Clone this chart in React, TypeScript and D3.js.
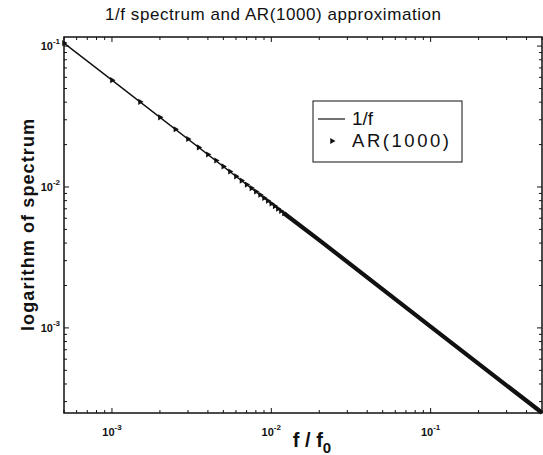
import { useMemo } from "react";
import { scaleLog, line, symbol, symbolTriangle } from "d3";

// 1/f reference line
const fLine = [0.0005, 0.001, 0.01, 0.1, 0.5];
const sLine = [0.105, 0.0573, 0.0076, 0.00102, 0.00025];

// AR(1000) markers, the sparse low-frequency part
const arFreq = [
  0.0005, 0.001, 0.0015, 0.002, 0.0025, 0.003, 0.0035, 0.004, 0.0045, 0.005,
  0.0055, 0.006, 0.0065, 0.007, 0.0075, 0.008, 0.0085, 0.009, 0.0095, 0.01,
  0.0105, 0.011, 0.0115, 0.012,
];
const arSpec = [
  0.105, 0.0573, 0.0402, 0.0312, 0.0257, 0.0219, 0.0191, 0.017, 0.0154, 0.014,
  0.0129, 0.0119, 0.0111, 0.0104, 0.00982, 0.00928, 0.0088, 0.00837, 0.00799,
  0.00763, 0.00732, 0.00702, 0.00675, 0.00651,
];
// dense part, where markers merge into a thick band
const arBandFreq = [0.012, 0.02, 0.1, 0.5];
const arBandSpec = [0.00651, 0.0042, 0.00102, 0.00025];

const xTickExp = [-3, -2, -1];
const yTickExp = [-1, -2, -3];

const W = 543;
const H = 455;
const left = 64;
const right = 542;
const top = 37;
const bottom = 413;
const font = "Liberation Sans, Arial, sans-serif";

export default function App() {
  const x = useMemo(() => scaleLog().domain([5e-4, 0.5]).range([left, right]), []);
  const y = useMemo(() => scaleLog().domain([2.49e-4, 0.116]).range([bottom, top]), []);

  const lineGen = line<number>()
    .x((d, i) => x(fLine[i]))
    .y((d) => y(d));
  const bandGen = line<number>()
    .x((d, i) => x(arBandFreq[i]))
    .y((d) => y(d));
  const tri = symbol().type(symbolTriangle).size(16)();

  // minor + major ticks inside the domains
  const xTicks = x.ticks();
  const yTicks = y.ticks();
  const isMajor = (v: number) => Math.abs(Math.log10(v) - Math.round(Math.log10(v))) < 1e-6;

  return (
    <svg
      width={W}
      height={H}
      style={{ position: "absolute", left: 0, top: 0, background: "#fff" }}
      fontFamily={font}
    >
      <rect width={W} height={H} fill="#fff" />
      <text x={105} y={20} fontSize={17} fill="#111" textLength={336} lengthAdjust="spacing">
        1/f spectrum and AR(1000) approximation
      </text>

      {/* frame */}
      <rect
        x={left}
        y={top}
        width={right - left}
        height={bottom - top}
        fill="none"
        stroke="#111"
        strokeWidth={1.5}
      />

      {/* ticks */}
      {xTicks.map((t, i) => {
        const len = isMajor(t) ? 5 : 3;
        return (
          <g key={"xt" + i} stroke="#111" strokeWidth={1}>
            <line x1={x(t)} x2={x(t)} y1={bottom} y2={bottom - len} />
            <line x1={x(t)} x2={x(t)} y1={top} y2={top + len} />
          </g>
        );
      })}
      {yTicks.map((t, i) => {
        const len = isMajor(t) ? 5 : 3;
        return (
          <g key={"yt" + i} stroke="#111" strokeWidth={1}>
            <line x1={left} x2={left + len} y1={y(t)} y2={y(t)} />
            <line x1={right} x2={right - len} y1={y(t)} y2={y(t)} />
          </g>
        );
      })}

      {/* tick labels */}
      {xTickExp.map((e) => (
        <text key={"xl" + e} x={x(Math.pow(10, e))} y={436} textAnchor="middle" fontSize={11} fontWeight="bold" fill="#111">
          10<tspan dy={-6} fontSize={8}>{e}</tspan>
        </text>
      ))}
      {yTickExp.map((e) => (
        <text key={"yl" + e} x={60} y={y(Math.pow(10, e)) + 4} textAnchor="end" fontSize={11} fontWeight="bold" fill="#111">
          10<tspan dy={-6} fontSize={8}>{e}</tspan>
        </text>
      ))}

      {/* axis titles */}
      <text x={312} y={447} textAnchor="middle" fontSize={20} fontWeight="bold" fill="#111">
        f / f<tspan dy={6} fontSize={15}>0</tspan>
      </text>
      <text
        transform={`translate(34,${(top + bottom) / 2}) rotate(-90)`}
        textAnchor="middle"
        fontSize={18}
        fontWeight="bold"
        fill="#111"
        textLength={212}
        lengthAdjust="spacing"
      >
        logarithm of spectrum
      </text>

      {/* 1/f line */}
      <path d={lineGen(sLine) || ""} fill="none" stroke="#111" strokeWidth={1.4} />
      {/* AR(1000) dense band */}
      <path d={bandGen(arBandSpec) || ""} fill="none" stroke="#111" strokeWidth={4.2} />
      {/* AR(1000) markers */}
      {arFreq.map((f, i) => (
        <path
          key={"m" + i}
          d={tri}
          transform={`translate(${x(f)},${y(arSpec[i])}) rotate(90)`}
          fill="#111"
        />
      ))}

      {/* legend */}
      <rect x={313} y={101} width={149} height={61} fill="#fff" stroke="#111" strokeWidth={1} />
      <line x1={318} x2={345} y1={119} y2={119} stroke="#111" strokeWidth={1.2} />
      <text x={352} y={125} fontSize={18.5} fill="#111" textLength={21} lengthAdjust="spacingAndGlyphs">
        1/f
      </text>
      <path d={tri} transform="translate(332,141) rotate(90)" fill="#111" />
      <text x={352} y={147} fontSize={18.5} fill="#111" textLength={97} lengthAdjust="spacing">
        AR(1000)
      </text>
    </svg>
  );
}
